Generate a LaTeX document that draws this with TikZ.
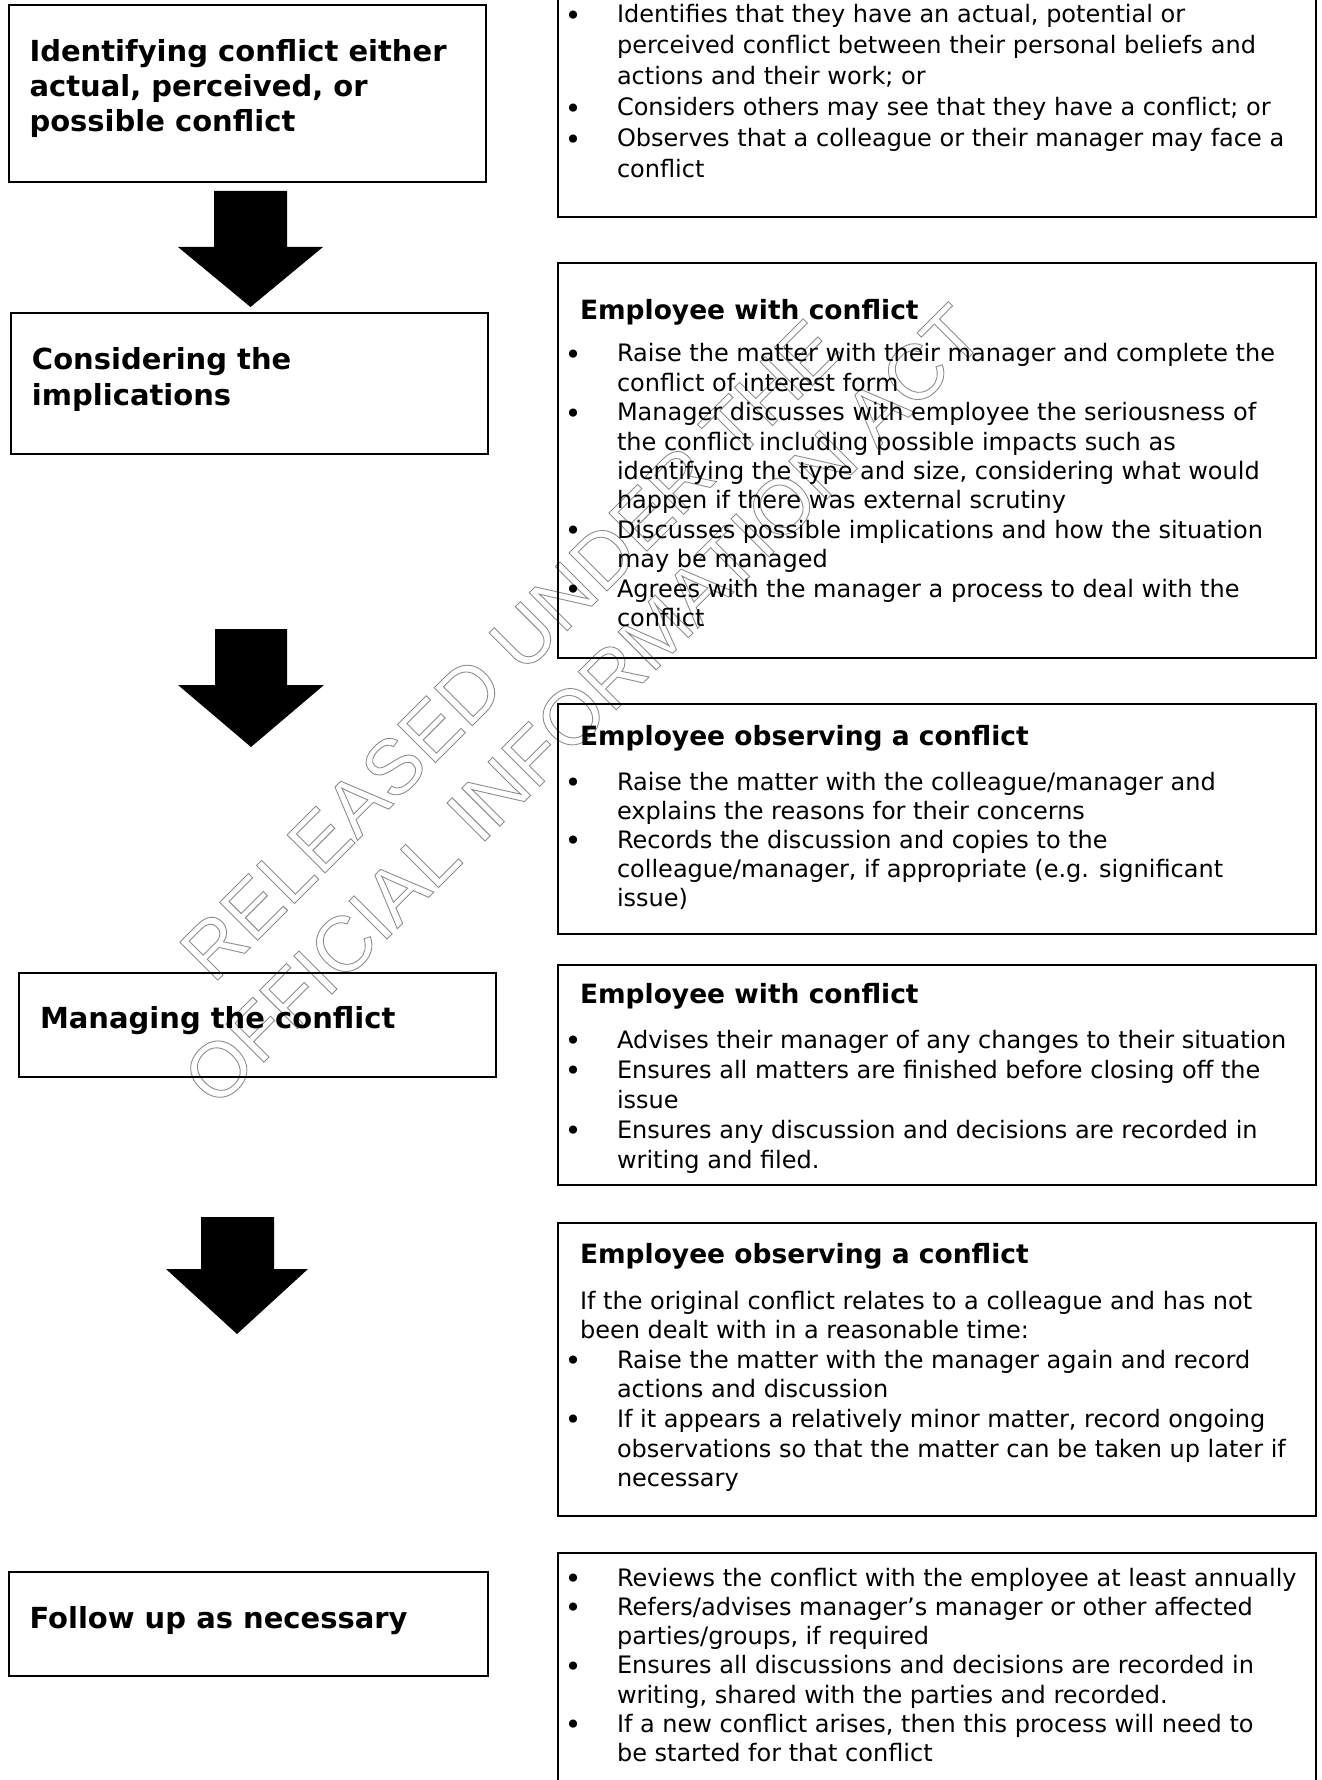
\documentclass[tikz,border=0pt]{standalone}
\usepackage{fontspec}
\setmainfont{DejaVu Sans}
\newfontfamily\wmfont{Liberation Sans}
\usetikzlibrary{fit}

% list lines: bullet line, continuation line, plain paragraph line
\newcommand\bulletmark{\raisebox{-1.2pt}{\fontsize{14pt}{14pt}\selectfont\textbullet}}
\newcommand\bl[1]{\hspace*{7.5pt}\makebox[0pt]{\bulletmark}\hspace*{22pt}#1}
\newcommand\cl[1]{\hspace*{29.5pt}#1}
\newcommand\pl[1]{\hspace*{11pt}#1}
% outlined (stroked) lettering for the stamp
\newcommand\outl[1]{\special{pdf:literal direct q 1 Tr 0.45 w 0.55 G}#1\special{pdf:literal direct Q}}

\tikzset{
  panel/.style={draw=black, line width=0.9pt, inner sep=0pt},
  blockarrow/.style={fill=black},
  txt/.style={anchor=base west, inner sep=0pt, outer sep=0pt},
  title/.style={font=\fontsize{14.5pt}{#1}\selectfont\bfseries},
  title/.default=17.5pt,
  head/.style={font=\fontsize{13.25pt}{16pt}\selectfont\bfseries},
  body/.style={font=\fontsize{12pt}{#1}\selectfont},
  body/.default=14.5pt,
  wm/.style={inner sep=0pt, font=\wmfont\fontsize{39pt}{40pt}\selectfont, rotate=45}
}

\begin{document}
\begin{tikzpicture}[x=0.5pt, y=-0.5pt]
\useasboundingbox (0,0) rectangle (1321,1780);
\clip (0,0) rectangle (1321,1780);

% stamp across the page
\node[wm] (wm1) at (510,650) {\outl{RELEASED UNDER THE}};
\node[wm] (wm2) at (583,705) {\outl{OFFICIAL INFORMATION ACT}};

% stage boxes on the left
\node[panel, fit={(9,5) (486,182)}] (b1) {};
\node[panel, fit={(11,313) (488,454)}] (b2) {};
\node[panel, fit={(19,973) (496,1077)}] (b3) {};
\node[panel, fit={(9,1572) (488,1676)}] (b4) {};

\node[txt, title] (b1t) at (29.5,62) {\parbox[t]{240pt}{Identifying conflict either\\actual, perceived, or\\possible conflict}};
\node[txt, title=18pt] (b2t) at (32,370) {\parbox[t]{240pt}{Considering the\\implications}};
\node[txt, title] (b3t) at (40,1028) {Managing the conflict};
\node[txt, title] (b4t) at (29.5,1628) {Follow up as necessary};

% block arrows between the stages
\coordinate (a1) at (250.5,307);
\fill[blockarrow] (a1) -- ++(-72.5,-60) -- ++(36,0) -- ++(0,-56) -- ++(73,0) -- ++(0,56) -- ++(36,0) -- cycle;
\coordinate (a2) at (251,747);
\fill[blockarrow] (a2) -- ++(-73,-62) -- ++(37,0) -- ++(0,-56) -- ++(72,0) -- ++(0,56) -- ++(37,0) -- cycle;
\coordinate (a3) at (237,1334);
\fill[blockarrow] (a3) -- ++(-71,-65) -- ++(35,0) -- ++(0,-52) -- ++(73,0) -- ++(0,52) -- ++(34,0) -- cycle;

% detail boxes on the right
\node[panel, fit={(558,-10) (1316,217)}] (r1) {};
\node[panel, fit={(558,263) (1316,658)}] (r2) {};
\node[panel, fit={(558,704) (1316,934)}] (r3) {};
\node[panel, fit={(558,965) (1316,1185)}] (r4) {};
\node[panel, fit={(558,1223) (1316,1516)}] (r5) {};
\node[panel, fit={(558,1553) (1316,1790)}] (r6) {};

\node[txt, body=15.5pt] (r1t) at (558,23) {\parbox[t]{380pt}{%
\bl{Identifies that they have an actual, potential or}\\
\cl{perceived conflict between their personal beliefs and}\\
\cl{actions and their work; or}\\
\bl{Considers others may see that they have a conflict; or}\\
\bl{Observes that a colleague or their manager may face a}\\
\cl{conflict}}};

\node[txt, head] (r2h) at (580,320) {Employee with conflict};
\node[txt, body=14.7pt] (r2t) at (558,362) {\parbox[t]{380pt}{%
\bl{Raise the matter with their manager and complete the}\\
\cl{conflict of interest form}\\
\bl{Manager discusses with employee the seriousness of}\\
\cl{the conflict including possible impacts such as}\\
\cl{identifying the type and size, considering what would}\\
\cl{happen if there was external scrutiny}\\
\bl{Discusses possible implications and how the situation}\\
\cl{may be managed}\\
\bl{Agrees with the manager a process to deal with the}\\
\cl{conflict}}};

\node[txt, head] (r3h) at (580,745) {Employee observing a conflict};
\node[txt, body=14.6pt] (r3t) at (558,790) {\parbox[t]{380pt}{%
\bl{Raise the matter with the colleague/manager and}\\
\cl{explains the reasons for their concerns}\\
\bl{Records the discussion and copies to the}\\
\cl{colleague/manager, if appropriate (e.g. significant}\\
\cl{issue)}}};

\node[txt, head] (r4h) at (580,1003) {Employee with conflict};
\node[txt, body=15pt] (r4t) at (558,1048) {\parbox[t]{380pt}{%
\bl{Advises their manager of any changes to their situation}\\
\bl{Ensures all matters are finished before closing off the}\\
\cl{issue}\\
\bl{Ensures any discussion and decisions are recorded in}\\
\cl{writing and filed.}}};

\node[txt, head] (r5h) at (580,1263) {Employee observing a conflict};
\node[txt, body=14.8pt] (r5t) at (558,1309) {\parbox[t]{380pt}{%
\pl{If the original conflict relates to a colleague and has not}\\
\pl{been dealt with in a reasonable time:}\\
\bl{Raise the matter with the manager again and record}\\
\cl{actions and discussion}\\
\bl{If it appears a relatively minor matter, record ongoing}\\
\cl{observations so that the matter can be taken up later if}\\
\cl{necessary}}};

\node[txt, body=14.65pt] (r6t) at (558,1586) {\parbox[t]{380pt}{%
\bl{Reviews the conflict with the employee at least annually}\\
\bl{Refers/advises manager’s manager or other affected}\\
\cl{parties/groups, if required}\\
\bl{Ensures all discussions and decisions are recorded in}\\
\cl{writing, shared with the parties and recorded.}\\
\bl{If a new conflict arises, then this process will need to}\\
\cl{be started for that conflict}}};
\end{tikzpicture}
\end{document}
